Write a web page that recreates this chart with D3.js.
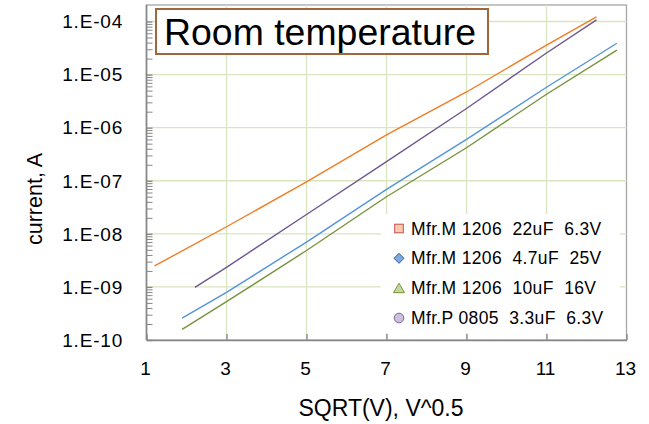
<!DOCTYPE html>
<html>
<head>
<meta charset="utf-8">
<script src="https://cdn.jsdelivr.net/npm/d3@7"></script>
<style>
  html, body { margin: 0; padding: 0; background: #fff; }
  svg { display: block; }
  text { font-family: "Liberation Sans", Arial, sans-serif; fill: #000; }
</style>
</head>
<body>
<svg id="chart" width="649" height="424"></svg>
<script>
// ---- data ----
const xTicks = [1, 3, 5, 7, 9, 11, 13];
const yTicks = [1e-10, 1e-9, 1e-8, 1e-7, 1e-6, 1e-5, 1e-4];
const yTickLabels = ["1.E-10", "1.E-09", "1.E-08", "1.E-07", "1.E-06", "1.E-05", "1.E-04"];

const seriesNames = [
  "Mfr.M 1206  22uF  6.3V",
  "Mfr.M 1206  4.7uF  25V",
  "Mfr.M 1206  10uF  16V",
  "Mfr.P 0805  3.3uF  6.3V"
];

const sqrtV_22uF  = [1.20, 3, 5, 7, 9, 11, 12.25];
const current_22uF  = [2.48e-9, 1.36e-8, 9.5e-8, 7.3e-7, 4.7e-6, 3.6e-5, 1.22e-4];

const sqrtV_4u7   = [1.89, 3, 5, 7, 9, 11, 12.76];
const current_4u7   = [2.59e-10, 7.9e-10, 7.0e-9, 6.9e-8, 6.0e-7, 5.77e-6, 3.89e-5];

const sqrtV_10uF  = [1.89, 3, 5, 7, 9, 11, 12.76];
const current_10uF  = [1.59e-10, 5.27e-10, 4.85e-9, 5.0e-8, 4.18e-7, 4.26e-6, 2.90e-5];

const sqrtV_3u3   = [2.21, 3, 5, 7, 9, 11, 12.25];
const current_3u3   = [9.8e-10, 2.34e-9, 2.31e-8, 2.29e-7, 2.30e-6, 2.55e-5, 1.07e-4];

const lineColors   = ["#F07C24", "#5394DB", "#77933C", "#6F5691"];
const markerFills  = ["#F9C9AE", "#7EA9E0", "#C4D79B", "#CCC1DA"];
const markerStroke = ["#C0504D", "#2F5B9A", "#77933C", "#8064A2"];

const series = [
  { x: sqrtV_22uF, y: current_22uF },
  { x: sqrtV_4u7,  y: current_4u7 },
  { x: sqrtV_10uF, y: current_10uF },
  { x: sqrtV_3u3,  y: current_3u3 }
];

// ---- layout ----
const svg = d3.select("#chart");
const pLeft = 146.5, pRight = 626.5, pTop = 5, pBottom = 340;

const x = d3.scaleLinear().domain([1, 13]).range([pLeft, pRight]);
const y = d3.scaleLog().domain([1e-10, 1e-4]).range([pBottom, 21.5]);

// plot border
svg.append("rect")
  .attr("x", pLeft).attr("y", pTop)
  .attr("width", pRight - pLeft).attr("height", pBottom - pTop)
  .attr("fill", "#fff").attr("stroke", "#A6A6A6").attr("stroke-width", 1.3);

// gridlines
const grid = svg.append("g");
grid.selectAll("line.v").data(xTicks.filter(d => d > 1 && d < 13)).enter().append("line")
  .attr("x1", d => x(d)).attr("x2", d => x(d))
  .attr("y1", pTop).attr("y2", pBottom)
  .attr("stroke", "#D9E5C0").attr("stroke-width", 1.3);
grid.selectAll("line.h").data(yTicks.filter(d => d > 1e-10)).enter().append("line")
  .attr("x1", pLeft).attr("x2", pRight)
  .attr("y1", d => y(d)).attr("y2", d => y(d))
  .attr("stroke", "#D9E5C0").attr("stroke-width", 1.3);

// series lines
const line = d3.line().x(d => x(d[0])).y(d => y(d[1]));
const drawOrder = [2, 1, 3, 0];
drawOrder.forEach(i => {
  const s = series[i];
  svg.append("path")
    .datum(s.x.map((v, k) => [v, s.y[k]]))
    .attr("d", line)
    .attr("fill", "none")
    .attr("stroke", lineColors[i])
    .attr("stroke-width", 1.4);
});

// axes (ticks inside)
const xAxis = d3.axisBottom(x).tickValues(xTicks).tickSizeInner(-6).tickSizeOuter(0).tickFormat("");
const gx = svg.append("g").attr("transform", `translate(0,${pBottom})`).call(xAxis);
gx.select(".domain").attr("stroke", "#868686").attr("stroke-width", 1.6);
gx.selectAll(".tick line").attr("stroke", "#868686").attr("stroke-width", 1.3);

const minorY = [];
for (let e = -10; e < -4; e++) for (let m = 2; m <= 9; m++) minorY.push(m * Math.pow(10, e));
const yAxisMinor = d3.axisLeft(y).tickValues(minorY).tickSizeInner(-6).tickSizeOuter(0).tickFormat("");
const gyMinor = svg.append("g").attr("transform", `translate(${pLeft},0)`).call(yAxisMinor);
gyMinor.select(".domain").remove();
gyMinor.selectAll(".tick line").attr("stroke", "#868686").attr("stroke-width", 1);

const yAxis = d3.axisLeft(y).tickValues(yTicks).tickSizeInner(-6).tickSizeOuter(0).tickFormat("");
const gy = svg.append("g").attr("transform", `translate(${pLeft},0)`).call(yAxis);
gy.select(".domain").attr("stroke", "#868686").attr("stroke-width", 1.6)
  .attr("d", `M0,${pTop}V${pBottom}`);
gy.selectAll(".tick line").attr("stroke", "#868686").attr("stroke-width", 1.3);

// tick labels
svg.append("g").selectAll("text").data(yTicks).enter().append("text")
  .attr("x", 123).attr("y", d => y(d) + 6.8)
  .attr("text-anchor", "end")
  .style("font-size", "19px").style("letter-spacing", "0.8px")
  .text((d, i) => yTickLabels[i]);

svg.append("g").selectAll("text").data(xTicks).enter().append("text")
  .attr("x", d => x(d) - 1).attr("y", 375)
  .attr("text-anchor", "middle")
  .style("font-size", "19px")
  .text(d => d);

// axis titles
svg.append("text")
  .attr("x", 381).attr("y", 416)
  .attr("text-anchor", "middle")
  .style("font-size", "23px")
  .text("SQRT(V), V^0.5");

svg.append("text")
  .attr("transform", "translate(42,199) rotate(-90)")
  .attr("text-anchor", "middle")
  .style("font-size", "21.5px")
  .text("current, A");

// title box
svg.append("rect")
  .attr("x", 156).attr("y", 9)
  .attr("width", 332).attr("height", 45)
  .attr("fill", "#fff").attr("stroke", "#A0683A").attr("stroke-width", 2);
svg.append("text")
  .attr("x", 164).attr("y", 44.5)
  .attr("textLength", 312)
  .attr("lengthAdjust", "spacingAndGlyphs")
  .style("font-size", "36px")
  .text("Room temperature");

// legend
const lg = svg.append("g");
lg.append("rect")
  .attr("x", 381).attr("y", 214).attr("width", 239).attr("height", 119)
  .attr("fill", "#fff");
const legendOrder = [0, 1, 2, 3];
const rowY = d3.scalePoint().domain(legendOrder).range([228.5, 318]);
const mx = 399;
legendOrder.forEach(i => {
  const cy = rowY(i);
  let m;
  if (i === 0) {
    m = lg.append("rect").attr("x", mx - 4.3).attr("y", cy - 4.3).attr("width", 8.6).attr("height", 8.6);
  } else if (i === 1) {
    m = lg.append("path").attr("d", `M${mx - 5},${cy}L${mx},${cy - 5}L${mx + 5},${cy}L${mx},${cy + 5}Z`);
  } else if (i === 2) {
    m = lg.append("path").attr("d", `M${mx - 5.5},${cy + 4.5}L${mx},${cy - 5}L${mx + 5.5},${cy + 4.5}Z`);
  } else {
    m = lg.append("circle").attr("cx", mx).attr("cy", cy).attr("r", 4.8);
  }
  m.attr("fill", markerFills[i]).attr("stroke", markerStroke[i]).attr("stroke-width", 1);
  lg.append("text")
    .attr("x", 411).attr("y", cy + 6)
    .style("font-size", "17.5px")
    .style("letter-spacing", "0.35px")
    .style("white-space", "pre")
    .attr("xml:space", "preserve")
    .text(seriesNames[i]);
});
</script>
</body>
</html>
